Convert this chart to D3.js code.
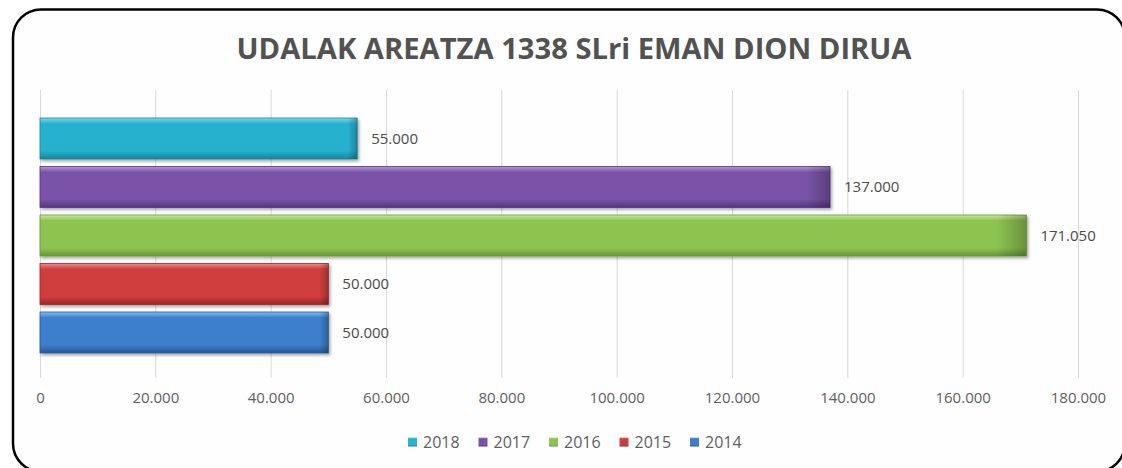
<!DOCTYPE html>
<html>
<head>
<meta charset="utf-8">
<script src="https://cdn.jsdelivr.net/npm/d3@7"></script>
<style>
html,body{margin:0;padding:0;background:#fff;}
svg{display:block;}
</style>
</head>
<body>
<svg id="chart" width="1122" height="468"></svg>
<script>
// ---- data ----
const years = ["2018", "2017", "2016", "2015", "2014"];
const values = [55000, 137000, 171050, 50000, 50000];
const tickValues = [0, 20000, 40000, 60000, 80000, 100000, 120000, 140000, 160000, 180000];
const legendOrder = ["2018", "2017", "2016", "2015", "2014"];
const title = "UDALAK AREATZA 1338 SLri EMAN DION DIRUA";

// ---- styles ----
const colors = {
  "2018": {top:"#7dd8ea", mid:"#27b2cf", bot:"#17859d"},
  "2017": {top:"#b09ad2", mid:"#7853a7", bot:"#553582"},
  "2016": {top:"#cfe89c", mid:"#8cc351", bot:"#679833"},
  "2015": {top:"#f08a8a", mid:"#cf3e3e", bot:"#a02626"},
  "2014": {top:"#84bdf0", mid:"#3d7fcb", bot:"#28599a"}
};
const fmt = v => d3.format(",")(v).replace(/,/g, ".");

const svg = d3.select("#chart");
const defs = svg.append("defs");

const shadow = defs.append("filter").attr("id","sh").attr("x","-5%").attr("y","-20%").attr("width","110%").attr("height","160%");
shadow.append("feDropShadow").attr("dx",1.5).attr("dy",2).attr("stdDeviation",1.5).attr("flood-color","#000").attr("flood-opacity",0.35);

years.forEach(y => {
  const c = colors[y];
  const g = defs.append("linearGradient").attr("id","g"+y).attr("x1",0).attr("y1",0).attr("x2",0).attr("y2",1);
  g.append("stop").attr("offset","0%").attr("stop-color",c.top);
  g.append("stop").attr("offset","14%").attr("stop-color",c.mid);
  g.append("stop").attr("offset","80%").attr("stop-color",c.mid);
  g.append("stop").attr("offset","100%").attr("stop-color",c.bot);
  const h = defs.append("linearGradient").attr("id","h"+y).attr("x1",0).attr("y1",0).attr("x2",1).attr("y2",0);
  h.append("stop").attr("offset","0%").attr("stop-color","#000").attr("stop-opacity",0);
  h.append("stop").attr("offset","97%").attr("stop-color","#000").attr("stop-opacity",0);
  h.append("stop").attr("offset","100%").attr("stop-color","#000").attr("stop-opacity",0.25);
});

// frame
svg.append("rect").attr("x",13).attr("y",9.5).attr("width",1112).attr("height",462)
  .attr("rx",28).attr("ry",28).attr("fill","#fefefe").attr("stroke","#000").attr("stroke-width",2.5);

// scales
const x = d3.scaleLinear().domain([0,180000]).range([40,1078]);
const y = d3.scaleBand().domain(years).range([114.25,356.75]).paddingInner(0.155).paddingOuter(0.0775);

// title
svg.append("text").attr("x",574).attr("y",58.5).attr("text-anchor","middle")
  .attr("font-family","'Open Sans', sans-serif").attr("font-weight",700).attr("font-size",28)
  .attr("fill","#525252").attr("textLength",675).attr("lengthAdjust","spacingAndGlyphs")
  .text(title);

// gridlines
svg.append("g").selectAll("line").data(tickValues).join("line")
  .attr("x1",d=>x(d)+0.5).attr("x2",d=>x(d)+0.5).attr("y1",90).attr("y2",378)
  .attr("stroke","#d9d9d9").attr("stroke-width",1);

// axis
const axis = d3.axisBottom(x).tickValues(tickValues).tickFormat(fmt).tickSize(0).tickPadding(0);
const ax = svg.append("g").attr("transform","translate(0,392)").call(axis);
ax.select(".domain").remove();
ax.selectAll("text").attr("font-family","'Open Sans', sans-serif").attr("font-size",15).attr("fill","#5f5f5f").attr("dy","0.71em");

// bars
const bars = svg.append("g");
years.forEach((yr,i) => {
  const g = bars.append("g").attr("filter","url(#sh)");
  g.append("rect").attr("x",x(0)).attr("y",y(yr)).attr("width",x(values[i])-x(0)).attr("height",y.bandwidth())
    .attr("fill","url(#g"+yr+")").attr("stroke",colors[yr].bot).attr("stroke-width",0.8);
  g.append("rect").attr("x",x(0)).attr("y",y(yr)).attr("width",x(values[i])-x(0)).attr("height",y.bandwidth())
    .attr("fill","url(#h"+yr+")");
});

// value labels
svg.append("g").selectAll("text").data(years).join("text")
  .attr("x",(d,i)=>x(values[i])+14).attr("y",d=>y(d)+y.bandwidth()/2).attr("dy","0.35em")
  .attr("font-family","'Open Sans', sans-serif").attr("font-size",15).attr("fill","#4a4a4a")
  .text((d,i)=>fmt(values[i]));

// legend
const legend = svg.append("g").attr("transform","translate(0,442)");
const legX = d3.scalePoint().domain(legendOrder).range([408,690]);
const li = legend.selectAll("g").data(legendOrder).join("g").attr("transform",d=>`translate(${legX(d)},0)`);
li.append("rect").attr("x",0).attr("y",-4.5).attr("width",9).attr("height",9).attr("fill",d=>"url(#g"+d+")");
li.append("text").attr("x",15).attr("y",0).attr("dy","0.35em")
  .attr("font-family","'Open Sans', sans-serif").attr("font-size",16).attr("fill","#5f5f5f").text(d=>d);
</script>
</body>
</html>
